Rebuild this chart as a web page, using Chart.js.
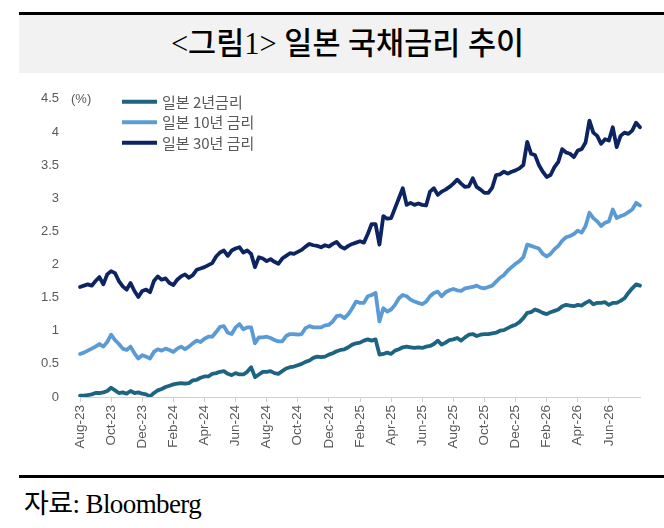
<!DOCTYPE html>
<html lang="ko">
<head>
<meta charset="utf-8">
<title>일본 국채금리 추이</title>
<script src="https://cdn.jsdelivr.net/npm/chart.js@4.4.1/dist/chart.umd.min.js"></script>
<style>
  html, body { margin: 0; padding: 0; background: #fff; }
  body { width: 664px; height: 528px; position: relative; overflow: hidden; }
  .rule { position: absolute; left: 19px; right: 0; background: #000; }
  .band {
    position: absolute; left: 19px; right: 0; top: 15px; height: 58px;
    background: #f2f2f2; text-align: center; line-height: 58px;
    font-family: "Liberation Serif", "Noto Sans CJK KR", serif;
    font-size: 30.5px; font-weight: 500; color: #000; padding-left: 12px; box-sizing: border-box;
  }
  .source {
    position: absolute; left: 24px; top: 482px;
    font-family: "Liberation Serif", "Noto Sans CJK KR", serif;
    font-size: 27px; color: #000; letter-spacing: -0.6px;
  }
  #wrap { position: absolute; left: 0; top: 78px; width: 664px; height: 392px; }
</style>
</head>
<body>
<div class="rule" style="top:12px;height:3px"></div>
<div class="band">&lt;그림1&gt; 일본 국채금리 추이</div>
<div id="wrap"><canvas id="line_chart"></canvas></div>
<div class="rule" style="top:475px;height:3px"></div>
<div class="source">자료: Bloomberg</div>

<script>
// quarter-month steps from Aug-23 (index 0) to Aug-26 (index 144)
var dates = [];
for (var i = 0; i < 145; i++) {
    var mm = 7 + Math.floor(i / 4);
    var yy = 2023 + Math.floor(mm / 12);
    dates.push(yy + '-' + String(mm % 12 + 1).padStart(2, '0') + '-' + String(1 + (i % 4) * 7).padStart(2, '0'));
}

var tickLabels = ["Aug-23", "Oct-23", "Dec-23", "Feb-24", "Apr-24", "Jun-24", "Aug-24", "Oct-24", "Dec-24",
                  "Feb-25", "Apr-25", "Jun-25", "Aug-25", "Oct-25", "Dec-25", "Feb-26", "Apr-26", "Jun-26"];

var yield2y = [0.02, 0.02, 0.03, 0.04, 0.06, 0.06, 0.07, 0.09, 0.14, 0.10,
               0.06, 0.07, 0.05, 0.09, 0.06, 0.07, 0.05, 0.04, 0.01, 0.06,
               0.10, 0.12, 0.15, 0.17, 0.19, 0.20, 0.21, 0.20, 0.21, 0.25,
               0.26, 0.29, 0.31, 0.31, 0.35, 0.36, 0.38, 0.39, 0.35, 0.33,
               0.36, 0.34, 0.34, 0.38, 0.45, 0.30, 0.34, 0.38, 0.38, 0.39,
               0.36, 0.35, 0.39, 0.43, 0.45, 0.46, 0.48, 0.50, 0.53, 0.55,
               0.59, 0.61, 0.60, 0.61, 0.64, 0.66, 0.69, 0.71, 0.72, 0.75,
               0.79, 0.81, 0.82, 0.85, 0.87, 0.85, 0.87, 0.64, 0.65, 0.67,
               0.65, 0.70, 0.72, 0.75, 0.76, 0.75, 0.74, 0.75, 0.74, 0.76,
               0.77, 0.80, 0.85, 0.79, 0.82, 0.86, 0.87, 0.89, 0.85, 0.90,
               0.94, 0.95, 0.92, 0.94, 0.95, 0.95, 0.96, 0.97, 1.00, 1.01,
               1.04, 1.07, 1.09, 1.13, 1.19, 1.27, 1.28, 1.32, 1.30, 1.27,
               1.25, 1.28, 1.30, 1.32, 1.37, 1.39, 1.38, 1.37, 1.39, 1.38,
               1.42, 1.45, 1.40, 1.42, 1.42, 1.43, 1.39, 1.42, 1.42, 1.45,
               1.49, 1.57, 1.64, 1.70, 1.68];

var yield10y = [0.65, 0.67, 0.70, 0.73, 0.76, 0.80, 0.76, 0.83, 0.94, 0.86,
                0.80, 0.73, 0.71, 0.76, 0.66, 0.58, 0.63, 0.61, 0.58, 0.68,
                0.72, 0.70, 0.73, 0.71, 0.68, 0.73, 0.76, 0.72, 0.76, 0.81,
                0.85, 0.83, 0.88, 0.91, 0.91, 0.98, 1.06, 1.07, 0.97, 0.95,
                1.05, 1.10, 1.02, 1.05, 1.05, 0.81, 0.90, 0.90, 0.91, 0.89,
                0.86, 0.84, 0.84, 0.92, 0.95, 0.95, 0.94, 0.95, 1.04, 1.07,
                1.05, 1.05, 1.05, 1.08, 1.09, 1.14, 1.22, 1.23, 1.19, 1.25,
                1.34, 1.44, 1.42, 1.42, 1.52, 1.54, 1.57, 1.14, 1.34, 1.29,
                1.32, 1.39, 1.49, 1.54, 1.52, 1.47, 1.44, 1.42, 1.40, 1.44,
                1.52, 1.57, 1.59, 1.52, 1.58, 1.61, 1.63, 1.61, 1.60, 1.64,
                1.65, 1.66, 1.68, 1.65, 1.64, 1.66, 1.68, 1.74, 1.80, 1.84,
                1.91, 1.96, 2.01, 2.05, 2.11, 2.30, 2.28, 2.26, 2.24, 2.16,
                2.12, 2.16, 2.23, 2.28, 2.36, 2.41, 2.43, 2.46, 2.51, 2.48,
                2.58, 2.78, 2.70, 2.65, 2.58, 2.63, 2.65, 2.83, 2.70, 2.73,
                2.75, 2.79, 2.83, 2.93, 2.89];

var yield30y = [1.66, 1.68, 1.70, 1.68, 1.75, 1.81, 1.70, 1.85, 1.90, 1.87,
                1.75, 1.67, 1.62, 1.72, 1.60, 1.51, 1.60, 1.62, 1.58, 1.75,
                1.82, 1.77, 1.79, 1.72, 1.69, 1.77, 1.82, 1.85, 1.80, 1.84,
                1.92, 1.94, 1.96, 1.99, 2.02, 2.12, 2.18, 2.21, 2.13, 2.21,
                2.24, 2.26, 2.18, 2.21, 2.16, 1.96, 2.11, 2.09, 2.05, 2.08,
                2.04, 2.01, 2.09, 2.13, 2.17, 2.16, 2.19, 2.22, 2.27, 2.31,
                2.29, 2.28, 2.26, 2.29, 2.27, 2.31, 2.34, 2.27, 2.24, 2.28,
                2.31, 2.33, 2.35, 2.33, 2.46, 2.61, 2.61, 2.30, 2.73, 2.69,
                2.70, 2.85, 3.00, 3.15, 2.90, 2.93, 2.90, 2.92, 2.90, 2.89,
                3.10, 3.15, 3.05, 3.10, 3.13, 3.17, 3.22, 3.28, 3.22, 3.17,
                3.18, 3.30, 3.17, 3.13, 3.08, 3.08, 3.16, 3.35, 3.36, 3.40,
                3.37, 3.40, 3.42, 3.45, 3.50, 3.85, 3.67, 3.65, 3.50, 3.40,
                3.32, 3.35, 3.47, 3.55, 3.74, 3.69, 3.67, 3.62, 3.72, 3.74,
                3.84, 4.17, 3.99, 3.94, 3.82, 3.89, 3.87, 4.07, 3.77, 3.94,
                3.99, 3.97, 4.02, 4.14, 4.07];

var seriesNames = ["일본 2년금리", "일본 10년 금리", "일본 30년 금리"];
var seriesColors = ["#1c6482", "#5b9bd5", "#0c2462"];

var tickFont = '"Liberation Sans Narrow", "Liberation Sans", sans-serif';
var legendFont = '"Liberation Sans Narrow", "Noto Sans CJK KR", sans-serif';

// legend drawn inside the plot, top left, plus the (%) unit next to the top tick
var insideLegend = {
    id: 'insideLegend',
    afterDraw: function(chart) {
        var ctx = chart.ctx;
        var area = chart.chartArea;
        var yTop = chart.scales.y.getPixelForValue(4.5);
        ctx.save();
        ctx.fillStyle = '#595959';
        ctx.font = '13px ' + tickFont;
        ctx.textAlign = 'left';
        ctx.textBaseline = 'middle';
        ctx.fillText('(%)', area.left - 9, yTop + 1);

        ctx.font = '15px ' + legendFont;
        chart.data.datasets.forEach(function(ds, k) {
            var y = yTop + 3 + k * 20.5;
            ctx.strokeStyle = ds.borderColor;
            ctx.lineWidth = 4;
            ctx.beginPath();
            ctx.moveTo(area.left + 42, y);
            ctx.lineTo(area.left + 77, y);
            ctx.stroke();
            ctx.fillText(ds.label, area.left + 82, y);
        });
        ctx.restore();
    }
};

var lineData = {
    labels: dates,
    datasets: [
        { label: seriesNames[0], data: yield2y, borderColor: seriesColors[0] },
        { label: seriesNames[1], data: yield10y, borderColor: seriesColors[1] },
        { label: seriesNames[2], data: yield30y, borderColor: seriesColors[2] }
    ]
};

var lineOptions = {
    responsive: true,
    maintainAspectRatio: false,
    animation: false,
    layout: { padding: { top: 16, right: 24, left: 0, bottom: 0 } },
    elements: {
        line: { borderWidth: 3.8, tension: 0, borderJoinStyle: 'round', borderCapStyle: 'round' },
        point: { radius: 0 }
    },
    plugins: { legend: { display: false }, tooltip: { enabled: false } },
    scales: {
        x: {
            type: 'category',
            offset: false,
            grid: { display: true, drawOnChartArea: false, drawTicks: true, tickLength: 5, color: '#d0d0d0' },
            border: { display: true, color: '#d0d0d0', width: 1 },
            ticks: {
                autoSkip: false, maxRotation: 90, minRotation: 90, padding: 3,
                color: '#595959', font: { family: '"Liberation Sans", Arial, sans-serif', size: 13.5 },
                callback: function(val, index) {
                    if (index % 8 !== 0) return null;
                    return tickLabels[index / 8];
                }
            },
            afterFit: function(scale) { scale.height = 73; }
        },
        y: {
            min: 0, max: 4.5,
            grid: { display: false },
            border: { display: false },
            ticks: {
                stepSize: 0.5, padding: 13,
                color: '#595959', font: { family: tickFont, size: 13 },
                callback: function(v) { return String(v); }
            },
            afterFit: function(scale) { scale.width = 80; }
        }
    }
};

var ctx = document.getElementById("line_chart").getContext("2d");
new Chart(ctx, { type: 'line', data: lineData, options: lineOptions, plugins: [insideLegend] });
</script>
</body>
</html>
